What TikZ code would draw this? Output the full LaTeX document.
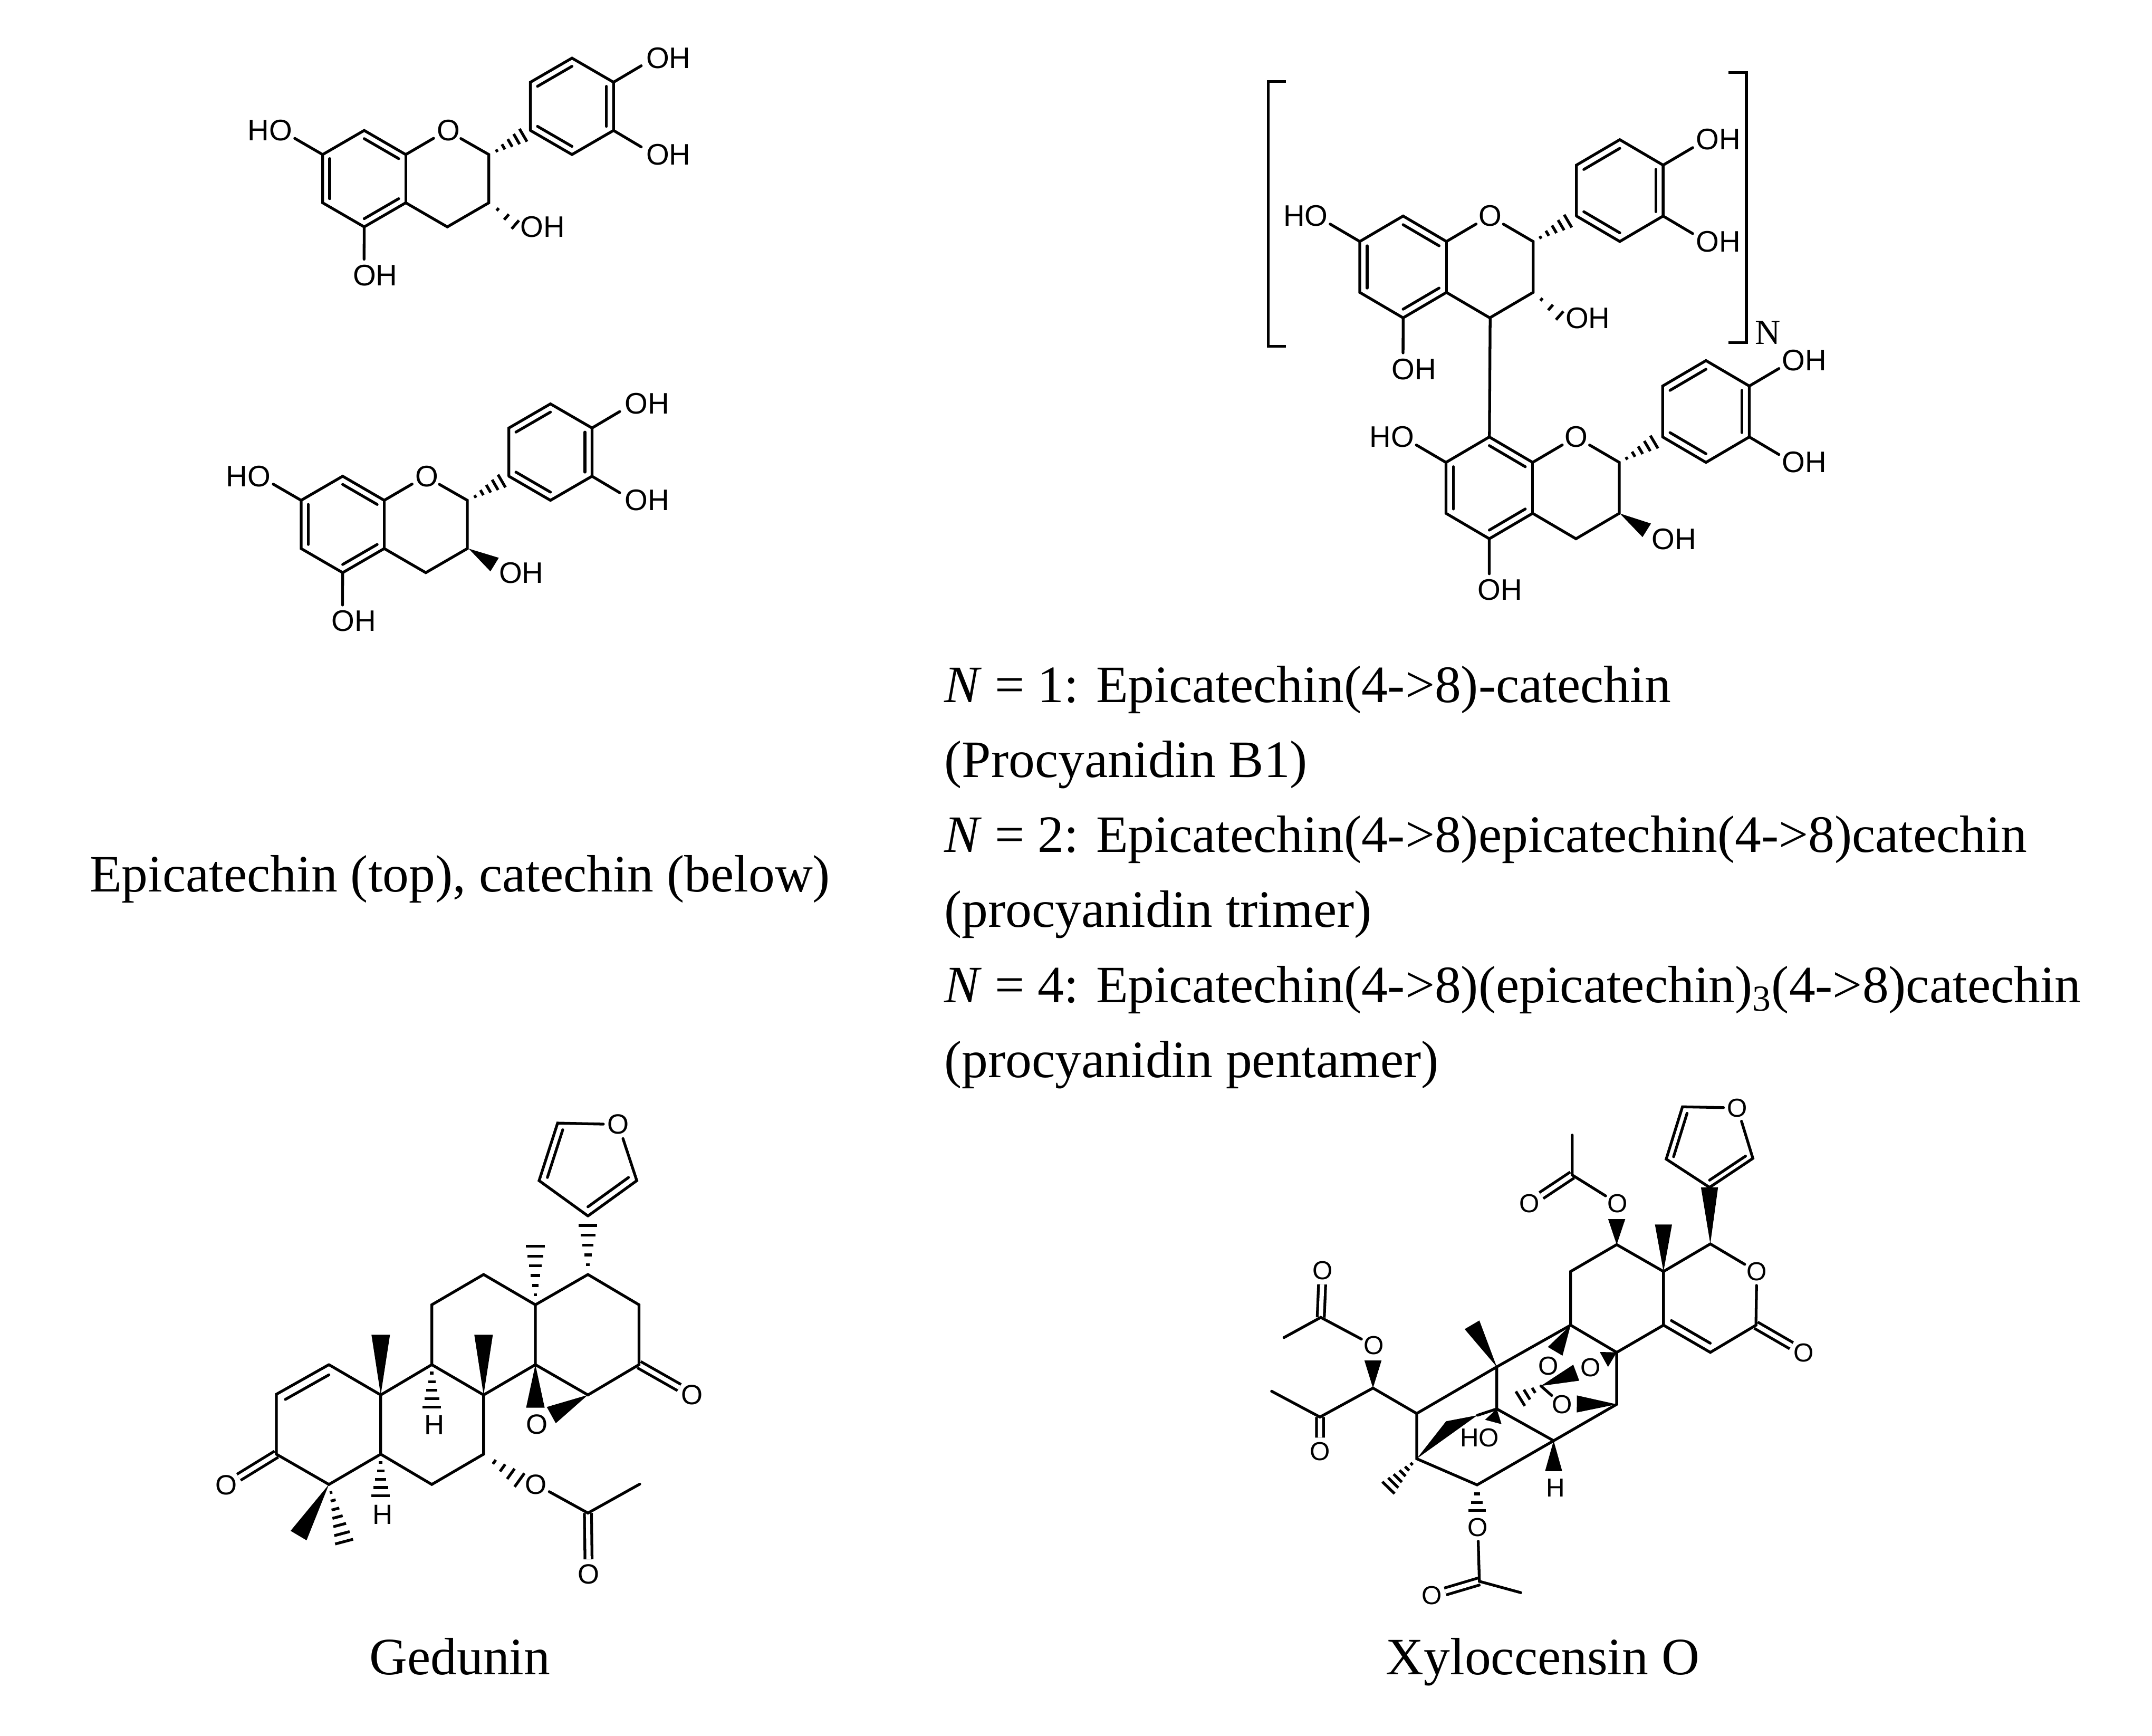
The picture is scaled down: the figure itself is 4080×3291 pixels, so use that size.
\documentclass[tikz,border=0pt]{standalone}
\usepackage{fontspec}
\setmainfont{Liberation Serif}
\newfontfamily\atomfont{Liberation Sans}
\usetikzlibrary{calc}

% Inner line of a ring double bond, pulled towards the ring centre
\newcommand{\innerbond}[3]{\draw[bond] ($(#1)!.17!(#3)$) -- ($(#2)!.17!(#3)$);}
% Solid wedge: tip, wide end, half width
\newcommand{\wedgebond}[3]{\begin{scope}[reset cm]
    \fill (#1) -- ($(#2)!#3!90:(#1)$) -- ($(#2)!#3!-90:(#1)$) -- cycle;
    \end{scope}}
% Hashed wedge: tip, wide end, half width
\newcommand{\hashbond}[4][.2,.4,.6,.8,1]{\begin{scope}[reset cm]
    \foreach \t in {#1} {
        \coordinate (m) at ($(#2)!\t!(#3)$);
        \draw[hatch] ($(m)!\t*#4!90:(#2)$) -- ($(m)!\t*#4!-90:(#2)$);
    }
    \end{scope}}

\tikzset{
    bond/.style={line width=1.5pt, line cap=round},
    dblbond/.style={line width=1.5pt, double, double distance=2.3pt},
    hatch/.style={line width=1.5pt},
    atom/.style={circle, inner sep=0pt, font=\atomfont\fontsize{16}{16}\selectfont},
    caption/.style={inner sep=0pt, font=\fontsize{28.3}{40.4}\selectfont},
    flavan/.pic={
        % Rings A and C
        \coordinate (-c7) at (0,0);
        \coordinate (-c8) at (1,-1);
        \coordinate (-c8a) at (2,0);
        \node[atom] (-o1) at (3,-1) {O};
        \coordinate (-c2) at (4,0);
        \coordinate (-c3) at (4,2);
        \coordinate (-c4) at (3,3);
        \coordinate (-c4a) at (2,2);
        \coordinate (-c5) at (1,3);
        \coordinate (-c6) at (0,2);
        \coordinate (-ca) at (1,1);
        % Ring B
        \coordinate (-b1) at (5,-1);
        \coordinate (-b2) at (5,-3);
        \coordinate (-b3) at (6,-4);
        \coordinate (-b4) at (7,-3);
        \coordinate (-b5) at (7,-1);
        \coordinate (-b6) at (6,0);
        \coordinate (-cb) at (6,-2);
        % Hydroxyl groups
        \node[atom] (-oh7) at (-1,-1) {\llap{H}O};
        \node[atom] (-oh5) at (1,5) {O\rlap{H}};
        \node[atom] (-oh3) at (5,3) {O\rlap{H}};
        \node[atom] (-oh4) at (8,-4) {O\rlap{H}};
        \node[atom] (-oh5b) at (8,0) {O\rlap{H}};
        % Ends of the stereo bonds at C2 and C3
        \coordinate (-h2) at (4.79,-.8);
        \coordinate (-h3) at (4.6,2.9);
        \coordinate (-w3) at (4.62,2.66);
        \draw[bond] (-c7) -- (-c8) -- (-c8a) -- (-o1) -- (-c2) -- (-c3) -- (-c4)
            -- (-c4a) -- (-c5) -- (-c6) -- (-c7);
        \draw[bond] (-c8a) -- (-c4a);
        \draw[bond] (-b1) -- (-b2) -- (-b3) -- (-b4) -- (-b5) -- (-b6) -- (-b1);
        \draw[bond] (-c7) -- (-oh7);
        \draw[bond] (-c5) -- (-oh5);
        \draw[bond] (-b4) -- (-oh4);
        \draw[bond] (-b5) -- (-oh5b);
        \innerbond{-c8}{-c8a}{-ca}
        \innerbond{-c7}{-c6}{-ca}
        \innerbond{-c5}{-c4a}{-ca}
        \innerbond{-b2}{-b3}{-cb}
        \innerbond{-b4}{-b5}{-cb}
        \innerbond{-b6}{-b1}{-cb}
        \hashbond{-c2}{-h2}{4pt}
    }
}

\begin{document}
\begin{tikzpicture}[x=.01cm, y=-.01cm]
\useasboundingbox (0,0) rectangle (4080,3291);

% Epicatechin and catechin
\pic[xscale=79.4, yscale=45.8] (epi) at (611.7,293) {flavan};
\hashbond[.3,.65,1]{epi-c3}{epi-h3}{3pt}
\pic[xscale=79.4, yscale=45.8] (cat) at (570.9,948.5) {flavan};
\wedgebond{cat-c3}{cat-w3}{4.3pt}
\node[caption] (capflavan) at (872,1667) {Epicatechin (top), catechin (below)};

% Procyanidin
\pic[xscale=82.4, yscale=48.4] (top) at (2578,457.8) {flavan};
\hashbond[.3,.65,1]{top-c3}{top-h3}{3pt}
\pic[xscale=82.4, yscale=48.4] (low) at (2741.4,876.6) {flavan};
\wedgebond{low-c3}{low-w3}{4.3pt}
\draw[bond] (top-c4) -- (low-c8);
\coordinate (la) at (2437.7,154.7);
\coordinate (lb) at (2404.7,154.7);
\coordinate (lc) at (2404.7,656.3);
\coordinate (ld) at (2437.7,656.3);
\coordinate (ra) at (3277.4,137.2);
\coordinate (rb) at (3311,137.2);
\coordinate (rc) at (3311,649.3);
\coordinate (rd) at (3277.4,649.3);
\draw[line width=1.5pt] (la) -- (lb) -- (lc) -- (ld);
\draw[line width=1.5pt] (ra) -- (rb) -- (rc) -- (rd);
\node[inner sep=0pt, font=\fontsize{19}{19}\selectfont] (rep) at (3352,631) {N};

\node[caption, align=left, anchor=north west] (capproc) at (1790,1262) {%
    \textit{N} = 1: Epicatechin(4->8)-catechin\\
    (Procyanidin B1)\\
    \textit{N} = 2: Epicatechin(4->8)epicatechin(4->8)catechin\\
    (procyanidin trimer)\\
    \textit{N} = 4: Epicatechin(4->8)(epicatechin)\textsubscript{3}(4->8)catechin\\
    (procyanidin pentamer)};

% Gedunin
\begin{scope}[shift={(350,2050)}, xscale=.7015, yscale=.6378,
              atom/.append style={font=\atomfont\fontsize{15}{15}\selectfont}]
    \coordinate (a1) at (390,842);
    \coordinate (a2) at (248,930);
    \coordinate (a3) at (248,1108);
    \coordinate (a4) at (390,1198);
    \coordinate (a5) at (530,1108);
    \coordinate (a10) at (530,932);
    \coordinate (acen) at (390,1020);
    \coordinate (b6) at (668,1198);
    \coordinate (b7) at (808,1108);
    \coordinate (b8) at (808,932);
    \coordinate (b9) at (668,842);
    \coordinate (c11) at (668,664);
    \coordinate (c12) at (808,574);
    \coordinate (c13) at (948,664);
    \coordinate (c14) at (948,842);
    \coordinate (d17) at (1090,574);
    \coordinate (d16) at (1228,664);
    \coordinate (d15) at (1228,842);
    \coordinate (d14) at (1090,932);
    \coordinate (f1) at (1090,400);
    \coordinate (f2) at (1222,295);
    \coordinate (f4) at (1008,124);
    \coordinate (f5) at (958,295);
    \coordinate (fcen) at (1090,240);
    \node[atom] (fo) at (1172,128) {O};
    \node[atom] (k3) at (112,1200) {O};
    \node[atom] (k15) at (1372,932) {O};
    \node[atom] (ep) at (952,1020) {O};
    \node[atom] (ac) at (950,1198) {O};
    \coordinate (acc) at (1090,1283);
    \coordinate (acm) at (1230,1197);
    \node[atom] (aco) at (1092,1465) {O};
    \node[atom] (h9) at (675,1022) {H};
    \node[atom] (h5) at (535,1288) {H};

    \draw[dblbond] (a3) -- (k3);
    \draw[dblbond] (d15) -- (k15);
    \draw[dblbond] (acc) -- (aco);

    \draw[bond] (a1) -- (a2) -- (a3) -- (a4) -- (a5) -- (a10) -- (a1);
    \draw[bond] (a5) -- (b6) -- (b7) -- (b8) -- (b9) -- (a10);
    \draw[bond] (b9) -- (c11) -- (c12) -- (c13) -- (c14) -- (b8);
    \draw[bond] (c13) -- (d17) -- (d16) -- (d15) -- (d14) -- (c14);
    \draw[bond] (f1) -- (f2) -- (fo) -- (f4) -- (f5) -- (f1);
    \draw[bond] (ac) -- (acc) -- (acm);
    \innerbond{a1}{a2}{acen}
    \innerbond{f1}{f2}{fcen}
    \innerbond{f4}{f5}{fcen}

    \coordinate (wa10) at (530,753);
    \coordinate (wb8) at (808,753);
    \coordinate (wc14) at (948,970);
    \coordinate (wd14) at (991,992);
    \coordinate (wa4) at (308,1350);
    \wedgebond{a10}{wa10}{5pt}
    \wedgebond{b8}{wb8}{5pt}
    \wedgebond{c14}{wc14}{5pt}
    \wedgebond{d14}{wd14}{5pt}
    \wedgebond{a4}{wa4}{5pt}

    \coordinate (hf) at (1090,428);
    \coordinate (hc13) at (948,490);
    \coordinate (hb9) at (668,968);
    \coordinate (ha5) at (530,1232);
    \coordinate (ha4) at (431,1368);
    \coordinate (hb7) at (905,1185);
    \hashbond{d17}{hf}{5pt}
    \hashbond[.17,.33,.5,.67,.83,1]{c13}{hc13}{5pt}
    \hashbond{b9}{hb9}{5pt}
    \hashbond{a5}{ha5}{5pt}
    \hashbond[.14,.28,.43,.57,.71,.86,1]{a4}{ha4}{5pt}
    \hashbond[.3,.53,.76,1]{b7}{hb7}{4.5pt}
\end{scope}
\node[caption, anchor=base] (capged) at (872,3174) {Gedunin};

% Xyloccensin O
\begin{scope}[shift={(2350,2050)}, xscale=.7334, yscale=.6698,
              atom/.append style={font=\atomfont\fontsize{14}{14}\selectfont}]
    \node[atom] (xfo) at (1287,75) {O};
    \coordinate (xf4) at (1145,72);
    \coordinate (xf5) at (1103,220);
    \coordinate (xf1) at (1215,300);
    \coordinate (xf2) at (1327,218);
    \coordinate (xfc) at (1215,180);
    \coordinate (xl1) at (1217,460);
    \node[atom] (xlo) at (1337,538) {O};
    \coordinate (xlc) at (1335,690);
    \node[atom] (xlk) at (1458,768) {O};
    \coordinate (xlh) at (1217,767);
    \coordinate (xla) at (1096,690);
    \coordinate (xlb) at (1096,538);
    \coordinate (xlcen) at (1216,614);
    \coordinate (xr1) at (975,462);
    \coordinate (xr2) at (856,538);
    \coordinate (xr3) at (856,690);
    \coordinate (xr4) at (975,767);
    \coordinate (xr5) at (975,914);
    \coordinate (xq) at (665,808);
    \coordinate (xp) at (665,927);
    \coordinate (xs) at (812,1017);
    \coordinate (xt) at (614,1142);
    \coordinate (xu) at (458,1068);
    \coordinate (xv) at (458,940);
    \coordinate (xw) at (345,868);
    \coordinate (xx) at (208,950);
    \coordinate (xxm) at (83,877);
    \node[atom] (xxo) at (208,1048) {O};
    \node[atom] (xao) at (347,748) {O};
    \coordinate (xac) at (210,668);
    \coordinate (xam) at (115,725);
    \node[atom] (xak) at (215,535) {O};
    \node[atom] (xbo) at (977,345) {O};
    \coordinate (xbc) at (860,265);
    \coordinate (xbm) at (860,152);
    \node[atom] (xbk) at (750,345) {O};
    \node[atom] (xco) at (616,1262) {O};
    \coordinate (xcc) at (620,1415);
    \coordinate (xcm) at (727,1447);
    \node[atom] (xck) at (497,1455) {O};
    \node[atom] (xhh) at (817,1150) {H};
    \node[atom] (xho) at (645,1008) {\llap{H}O};
    \coordinate (xm) at (779,862);
    \node[atom] (xo1) at (798.5,806) {O};
    \node[atom] (xo2) at (908,810) {O};
    \node[atom] (xo3) at (834,915) {O};

    \draw[dblbond] (xlc) -- (xlk);
    \draw[dblbond] (xac) -- (xak);
    \draw[dblbond] (xbc) -- (xbk);
    \draw[dblbond] (xcc) -- (xck);
    \draw[dblbond] (xx) -- (xxo);

    \draw[bond] (xfo) -- (xf4) -- (xf5) -- (xf1) -- (xf2) -- (xfo);
    \draw[bond] (xlb) -- (xl1) -- (xlo) -- (xlc) -- (xlh) -- (xla) -- (xlb);
    \draw[bond] (xlb) -- (xr1) -- (xr2) -- (xr3) -- (xr4) -- (xla);
    \draw[bond] (xr3) -- (xq) -- (xv) -- (xu) -- (xt) -- (xs) -- (xr5) -- (xr4);
    \draw[bond] (xq) -- (xp) -- (xs);
    \draw[bond] (xv) -- (xw) -- (xx) -- (xxm);
    \draw[bond] (xao) -- (xac) -- (xam);
    \draw[bond] (xbo) -- (xbc) -- (xbm);
    \draw[bond] (xco) -- (xcc) -- (xcm);
    \draw[bond] (xm) -- (xo3);
    \innerbond{xf4}{xf5}{xfc}
    \innerbond{xf1}{xf2}{xfc}
    \innerbond{xla}{xlh}{xlcen}

    \coordinate (wf) at (1215,300);
    \coordinate (wlb) at (1096,405);
    \coordinate (wr1) at (975,390);
    \coordinate (wq) at (601,689);
    \coordinate (ww) at (345,790);
    \coordinate (wh) at (812,1103);
    \coordinate (wp) at (656,964);
    \coordinate (wr3) at (816,764);
    \coordinate (wr4) at (942,787);
    \coordinate (wm) at (870.5,824.5);
    \coordinate (wr5) at (872,913);
    \wedgebond{xl1}{wf}{4.6pt}
    \wedgebond{xlb}{wlb}{4.6pt}
    \wedgebond{xr1}{wr1}{4.6pt}
    \wedgebond{xq}{wq}{4.6pt}
    \wedgebond{xw}{ww}{4.6pt}
    \wedgebond{xs}{wh}{4.6pt}
    \wedgebond{xp}{wp}{4.6pt}
    \wedgebond{xr3}{wr3}{4.6pt}
    \wedgebond{xr4}{wr4}{4.6pt}
    \wedgebond{xm}{wm}{4.6pt}
    \wedgebond{xr5}{wr5}{4.6pt}

    % Bold bridge of the lower ring
    \coordinate (xga) at (534,962);
    \coordinate (xgb) at (615,945);
    \fill (xu) -- (xga) -- (xgb) -- cycle;
    \draw[bond] (xgb) -- (xp);

    \coordinate (hu) at (385,1150);
    \coordinate (ht) at (614,1215);
    \coordinate (hm) at (726,898);
    \hashbond[.18,.34,.5,.67,.83,1]{xu}{hu}{4.6pt}
    \hashbond[.35,.68,1]{xt}{ht}{4.6pt}
    \hashbond[.35,.68,1]{xm}{hm}{4.6pt}
\end{scope}
\node[caption, anchor=base] (capxyl) at (2925,3174) {Xyloccensin O};

\end{tikzpicture}
\end{document}
